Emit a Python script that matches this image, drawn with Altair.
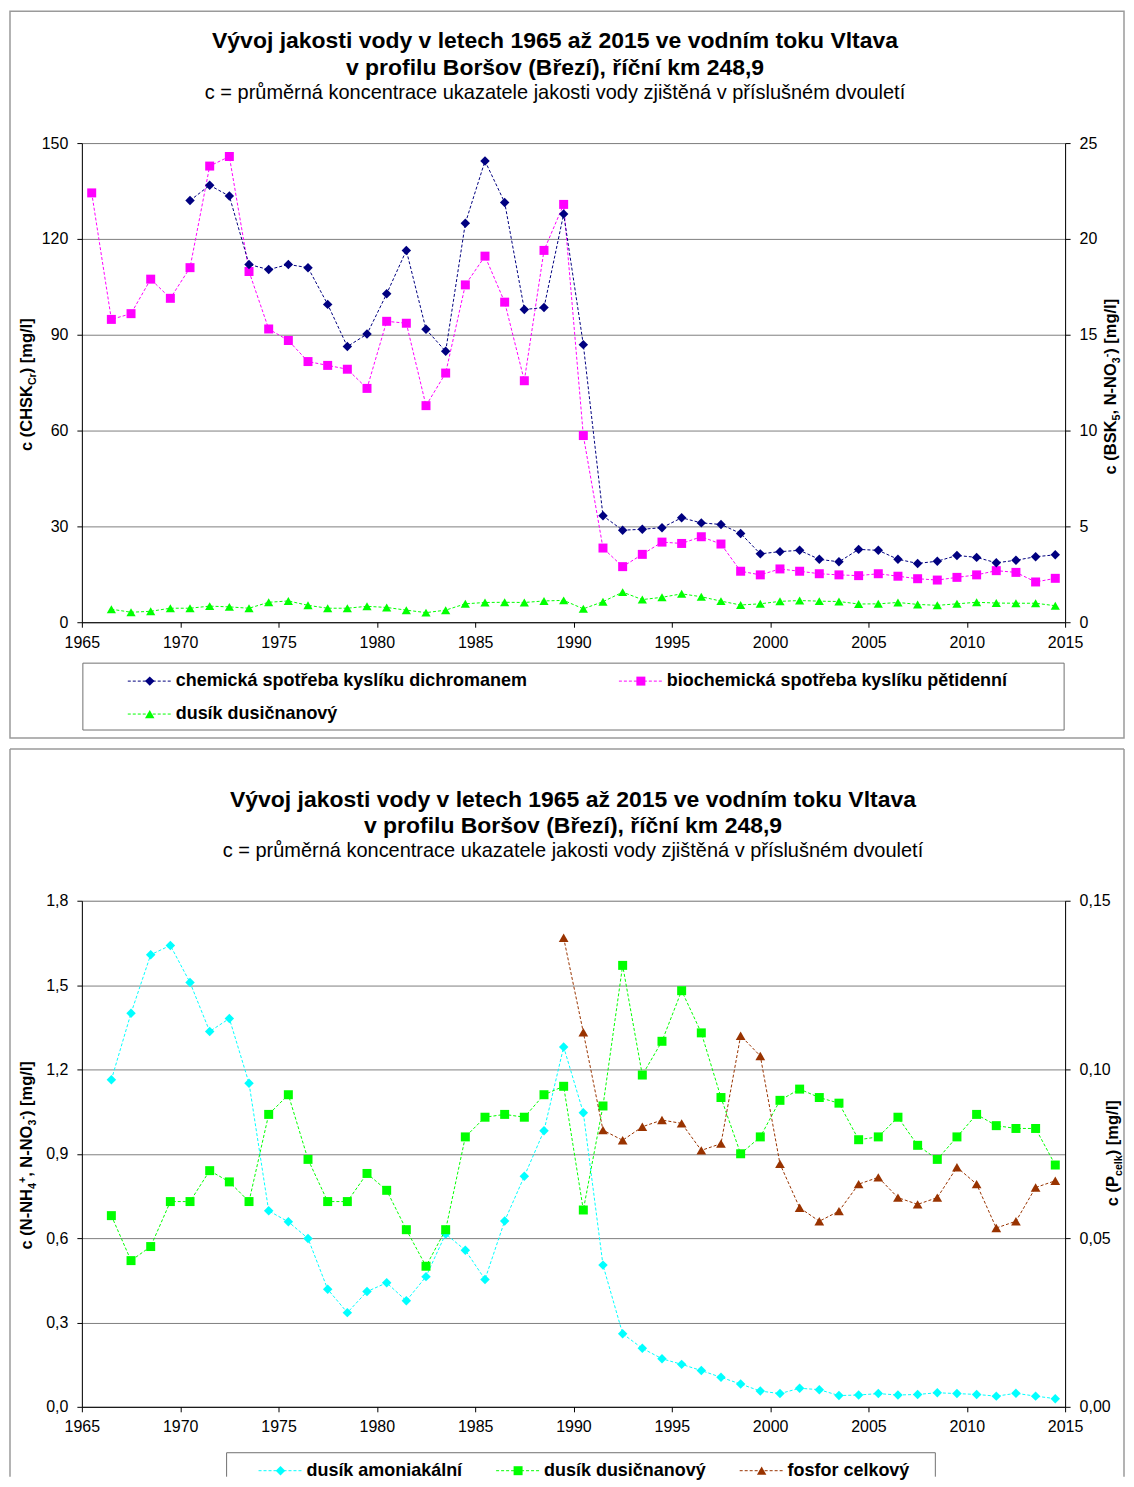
import altair as alt
import pandas as pd

FONT = "Liberation Sans"

# start years of the two-year periods (points plotted in the middle of each period)
YEARS = list(range(1965, 2015))

# ---- top chart series ----
CHSK_START = 1970
CHSK = [132.0, 136.8, 133.4, 112.0, 110.4, 112.0, 111.0, 99.5, 86.3, 90.2,
        102.8, 116.4, 91.7, 84.8, 124.9, 144.4, 131.4, 97.9, 98.5, 127.8,
        86.9, 33.3, 28.8, 29.1, 29.6, 32.7, 31.1, 30.6, 27.8, 21.4,
        22.1, 22.5, 19.7, 18.9, 22.8, 22.5, 19.7, 18.4, 19.1, 20.9,
        20.3, 18.6, 19.4, 20.5, 21.1]

BSK5_START = 1965
BSK5 = [22.4, 15.8, 16.1, 17.9, 16.9, 18.5, 23.8, 24.3, 18.3, 15.3,
        14.7, 13.6, 13.4, 13.2, 12.2, 15.7, 15.6, 11.3, 13.0, 17.6,
        19.1, 16.7, 12.6, 19.4, 21.8,
        9.74, 3.87, 2.90, 3.54, 4.18, 4.11, 4.46, 4.08, 2.66, 2.47,
        2.78, 2.66, 2.53, 2.47, 2.43, 2.53, 2.40, 2.27, 2.20, 2.34,
        2.47, 2.69, 2.60, 2.10, 2.29]

NO3_START = 1966
NO3 = [0.68, 0.52, 0.57, 0.73, 0.73, 0.84, 0.80, 0.73, 1.04, 1.11,
       0.88, 0.73, 0.73, 0.83, 0.77, 0.63, 0.50, 0.63, 0.96, 1.03,
       1.04, 1.03, 1.11, 1.14,
       0.70, 1.07, 1.57, 1.18, 1.30, 1.48, 1.33, 1.10, 0.90, 0.96,
       1.09, 1.13, 1.10, 1.08, 0.95, 0.96, 1.03, 0.93, 0.88, 0.96,
       1.04, 1.00, 0.99, 0.99, 0.86]

# ---- bottom chart series ----
NH4_START = 1966
NH4 = [1.163, 1.400, 1.608, 1.641, 1.509, 1.335, 1.381, 1.151, 0.697, 0.658,
       0.599, 0.418, 0.335, 0.410, 0.441, 0.377, 0.463, 0.615, 0.557, 0.453,
       0.661, 0.820, 0.982, 1.280,
       1.046, 0.504, 0.260, 0.208, 0.171, 0.151, 0.129, 0.105, 0.081, 0.056,
       0.047, 0.066, 0.061, 0.040, 0.042, 0.047, 0.042, 0.044, 0.050, 0.047,
       0.044, 0.038, 0.048, 0.038, 0.029]

P_START = 1989
PCELK = [0.139, 0.111, 0.082, 0.079, 0.083, 0.085, 0.084, 0.076, 0.078, 0.110,
         0.104, 0.072, 0.059, 0.055, 0.058, 0.066, 0.068, 0.062, 0.060, 0.062,
         0.071, 0.066, 0.053, 0.055, 0.065, 0.067]

TITLE1 = "Vývoj jakosti vody v letech 1965 až 2015 ve vodním toku Vltava"
TITLE2 = "v profilu Boršov (Březí), říční km 248,9"
SUBTITLE = "c = průměrná koncentrace ukazatele jakosti vody zjištěná v příslušném dvouletí"

TOP_LEGEND = ["chemická spotřeba kyslíku dichromanem",
              "biochemická spotřeba kyslíku pětidenní",
              "dusík dusičnanový"]
BOTTOM_LEGEND = ["dusík amoniakální", "dusík dusičnanový", "fosfor celkový"]

X_TICKS = [1965, 1970, 1975, 1980, 1985, 1990, 1995, 2000, 2005, 2010, 2015]
TOP_LEFT_TICKS = [0, 30, 60, 90, 120, 150]
TOP_RIGHT_TICKS = [0, 5, 10, 15, 20, 25]
BOT_LEFT_TICKS = [0, 0.3, 0.6, 0.9, 1.2, 1.5, 1.8]
BOT_RIGHT_TICKS = [0, 0.05, 0.10, 0.15]

TOP_LEFT_TITLE = [("c (CHSK", "n"), ("Cr", "sub"), (") [mg/l]", "n")]
TOP_RIGHT_TITLE = [("c (BSK", "n"), ("5", "sub"), (", N-NO", "n"), ("3", "sub"),
                   ("-", "sup"), (") [mg/l]", "n")]
BOT_LEFT_TITLE = [("c (N-NH", "n"), ("4", "sub"), ("+", "sup"), (", N-NO", "n"),
                  ("3", "sub"), ("-", "sup"), (") [mg/l]", "n")]
BOT_RIGHT_TITLE = [("c (P", "n"), ("celk", "sub"), (") [mg/l]", "n")]

NAVY, MAGENTA, LIME, CYAN, BROWN = "#000080", "#FF00FF", "#00FF00", "#00FFFF", "#993300"

W = 985
H_TOP = 480
H_BOT = 507

DUMMY = pd.DataFrame({"d": [0]})

# Arial/Liberation Sans Bold advance widths (per 1000 em)
BOLD_W = {" ": 278, "(": 333, ")": 333, "[": 333, "]": 333, "/": 278, ",": 278,
          "-": 333, "+": 584, "c": 556, "m": 889, "g": 611, "l": 278, "r": 389,
          "e": 556, "k": 556, "C": 722, "H": 722, "S": 667, "K": 722, "B": 722,
          "N": 722, "O": 778, "P": 667}


def text_width(s, size):
    return sum(BOLD_W.get(ch, 556) for ch in s) * size / 1000.0


def series_df(values, first_year):
    start = YEARS.index(first_year)
    return pd.DataFrame({"x": [y + 0.5 for y in YEARS[start:start + len(values)]],
                         "v": values})


def x_axis():
    return alt.Axis(orient="bottom", values=X_TICKS, format="d", title=None, grid=False,
                    domainColor="black", domainWidth=1, tickColor="black", tickSize=5,
                    labelFont=FONT, labelFontSize=16, labelColor="black", labelPadding=7,
                    labelFlush=False, labelOverlap=False)


def y_axis(orient, values, grid, label_expr=None):
    kw = dict(orient=orient, values=values, title=None, grid=grid,
              domainColor="black", domainWidth=1, tickColor="black", tickSize=5,
              labelFont=FONT, labelFontSize=16, labelColor="black", labelPadding=9)
    if grid:
        kw.update(gridColor="#808080", gridWidth=1)
    if label_expr:
        kw["labelExpr"] = label_expr
    return alt.Axis(**kw)


def series(df, color, shape, size, domain, axis):
    base = alt.Chart(df).encode(
        x=alt.X("x:Q", scale=alt.Scale(domain=[1965, 2015], nice=False, zero=False), axis=x_axis()),
        y=alt.Y("v:Q", scale=alt.Scale(domain=domain, nice=False, zero=True), axis=axis),
    )
    line = base.mark_line(color=color, strokeDash=[3, 2], strokeWidth=1)
    pts = base.mark_point(shape=shape, filled=True, size=size, color=color, opacity=1)
    return [line, pts]


def text_at(text, x, y, size, weight="normal", align="center"):
    return alt.Chart(DUMMY).mark_text(
        text=text, font=FONT, fontSize=size, fontWeight=weight, align=align,
        baseline="middle", color="black").encode(x=alt.value(x), y=alt.value(y))


def rotated_title(pieces, x, yc, size=16.5):
    sub = size * 0.65
    sizes = [size if k == "n" else sub for _, k in pieces]
    widths = [text_width(t, s) for (t, _), s in zip(pieces, sizes)]
    off = -sum(widths) / 2.0
    layers = []
    for (t, kind), s, w in zip(pieces, sizes, widths):
        dy = 0 if kind == "n" else (4 if kind == "sub" else -6)
        layers.append(alt.Chart(DUMMY).mark_text(
            text=t, font=FONT, fontSize=s, fontWeight="bold", angle=270, align="left",
            baseline="alphabetic", dx=off, dy=dy, color="black"
        ).encode(x=alt.value(x), y=alt.value(yc)))
        off += w
    return layers


def legend_entry(label, color, shape, size, x0, y, fs=18):
    rule = alt.Chart(DUMMY).mark_rule(color=color, strokeDash=[3, 2], strokeWidth=1).encode(
        x=alt.value(x0), x2=alt.value(x0 + 44), y=alt.value(y))
    pt = alt.Chart(DUMMY).mark_point(shape=shape, filled=True, size=size, color=color,
                                     opacity=1).encode(x=alt.value(x0 + 22), y=alt.value(y))
    txt = text_at(label, x0 + 48, y, fs, weight="bold", align="left")
    return [rule, pt, txt]


def hrule(x1, x2, y, color, width):
    return alt.Chart(DUMMY).mark_rule(color=color, strokeWidth=width).encode(
        x=alt.value(x1), x2=alt.value(x2), y=alt.value(y))


def vrule(x, y1, y2, color, width):
    return alt.Chart(DUMMY).mark_rule(color=color, strokeWidth=width).encode(
        x=alt.value(x), y=alt.value(y1), y2=alt.value(y2))


FRAME = "#9a9a9a"
BOX = "#707070"
TITLE_FS = 23
SUB_FS = 20

# ---------------- top chart ----------------
top_deco = [
    alt.Chart(DUMMY).mark_rect(fill="transparent", stroke=FRAME, strokeWidth=1.5).encode(
        x=alt.value(-72), x2=alt.value(1044), y=alt.value(-132), y2=alt.value(596)),
    text_at(TITLE1, 474, -102, TITLE_FS, weight="bold"),
    text_at(TITLE2, 474, -75, TITLE_FS, weight="bold"),
    text_at(SUBTITLE, 474, -50, SUB_FS),
    alt.Chart(DUMMY).mark_rect(fill="transparent", stroke=BOX, strokeWidth=1).encode(
        x=alt.value(1), x2=alt.value(984), y=alt.value(521), y2=alt.value(588)),
]
top_deco += legend_entry(TOP_LEGEND[0], NAVY, "diamond", 90, 46, 539)
top_deco += legend_entry(TOP_LEGEND[1], MAGENTA, "square", 81, 538, 539)
top_deco += legend_entry(TOP_LEGEND[2], LIME, "triangle-up", 90, 46, 572)
top_deco += rotated_title(TOP_LEFT_TITLE, -50, 242)
top_deco += rotated_title(TOP_RIGHT_TITLE, 1036, 244)

right_axis_top = y_axis("right", TOP_RIGHT_TICKS, False)
top_right = alt.layer(
    *series(series_df(BSK5, BSK5_START), MAGENTA, "square", 81, [0, 25], right_axis_top),
    *series(series_df(NO3, NO3_START), LIME, "triangle-up", 85, [0, 25], right_axis_top),
)
top_left = alt.layer(
    *series(series_df(CHSK, CHSK_START), NAVY, "diamond", 90, [0, 150],
            y_axis("left", TOP_LEFT_TICKS, True)),
)
top = alt.layer(*top_deco, top_right, top_left).resolve_scale(y="independent").properties(
    width=W, height=H_TOP)

# ---------------- bottom chart ----------------
bot_deco = [
    hrule(-72, 1044, -152, FRAME, 1.5),
    vrule(-72, -152, 577, FRAME, 1.5),
    vrule(1044, -152, 577, FRAME, 1.5),
    text_at(TITLE1, 492, -101, TITLE_FS, weight="bold"),
    text_at(TITLE2, 492, -75, TITLE_FS, weight="bold"),
    text_at(SUBTITLE, 492, -50, SUB_FS),
    hrule(145, 855, 553, BOX, 1),
    vrule(145, 553, 577, BOX, 1),
    vrule(855, 553, 577, BOX, 1),
]
bot_deco += legend_entry(BOTTOM_LEGEND[0], CYAN, "diamond", 90, 177, 571)
bot_deco += legend_entry(BOTTOM_LEGEND[1], LIME, "square", 81, 415, 571)
bot_deco += legend_entry(BOTTOM_LEGEND[2], BROWN, "triangle-up", 90, 659, 571)
bot_deco += rotated_title(BOT_LEFT_TITLE, -50, 255)
bot_deco += rotated_title(BOT_RIGHT_TITLE, 1038, 253)

left_axis_bot = y_axis("left", BOT_LEFT_TICKS, True,
                       "replace(format(datum.value, '.1f'), '.', ',')")
bot_left = alt.layer(
    *series(series_df(NH4, NH4_START), CYAN, "diamond", 90, [0, 1.8], left_axis_bot),
    *series(series_df(NO3, NO3_START), LIME, "square", 81, [0, 1.8], left_axis_bot),
)
bot_right = alt.layer(
    *series(series_df(PCELK, P_START), BROWN, "triangle-up", 95, [0, 0.15],
            y_axis("right", BOT_RIGHT_TICKS, False,
                   "replace(format(datum.value, '.2f'), '.', ',')")),
)
bottom = alt.layer(*bot_deco, bot_left, bot_right).resolve_scale(y="independent").properties(
    width=W, height=H_BOT)

chart = alt.vconcat(top, bottom, spacing=7).properties(padding=0).configure_view(
    strokeWidth=0).configure(font=FONT)

chart.save("out.html", embed_options={"renderer": "svg", "actions": False})
